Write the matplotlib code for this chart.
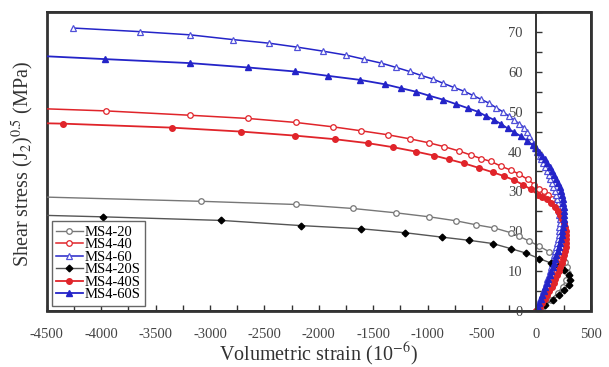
import matplotlib
matplotlib.use('Agg')
import matplotlib.pyplot as plt
from matplotlib.ticker import MultipleLocator

plt.rcParams['font.family'] = ['Liberation Serif', 'DejaVu Serif']
plt.rcParams['mathtext.fontset'] = 'stix'
plt.rcParams['axes.unicode_minus'] = False

# volumetric strain (1e-6) and shear stress (MPa), listed from the origin outward
strain_20 = [0, 58, 135, 196, 242, 273, 290, 285, 260, 200, 120, 28, -64, -156, -232,
             -386, -554, -737, -983, -1288, -1687, -2207, -3079, -4700]
stress_20 = [0, 1.1, 2.8, 4.5, 6.1, 7.8, 9.5, 11.0, 12.3, 13.5, 14.8, 16.2, 17.5, 18.7, 19.6,
             20.8, 21.6, 22.6, 23.6, 24.6, 25.7, 26.7, 27.5, 28.7]

strain_40 = [0, 25, 48, 70, 90, 110, 128, 145, 161, 176, 190, 202, 213, 223, 232, 239, 245,
             249, 251, 251, 249, 245, 238, 229, 217, 202, 184, 163, 140, 110, 72, 28, -18,
             -80, -156, -232, -324, -416, -505, -600, -707, -845, -990, -1166, -1365, -1610,
             -1870, -2213, -2651, -3180, -3958, -4700]
stress_40 = [0, 1, 2, 3, 4, 5, 6, 7, 8, 9, 10, 11, 12, 13, 14, 15, 16,
             17, 18, 19, 20, 21, 22, 23, 24, 25, 26, 27, 28, 29, 30, 30.6, 31.7,
             33.0, 34.3, 35.3, 36.3, 37.5, 38.2, 39.1, 40.1, 41.2, 42.2, 43.2, 44.2, 45.2,
             46.2, 47.3, 48.3, 49.1, 50.2, 50.9]

strain_60 = [0, 12, 25, 38, 50, 63, 76, 88, 100, 112, 123, 134, 145, 155, 165, 174, 183, 191,
             198, 204, 209, 212, 214, 214, 212, 208, 203, 196, 188, 178, 167, 155, 141, 127,
             112, 96, 80, 63, 46, 29, 10, -8, -25, -45, -65, -88, -110, -156, -202, -254,
             -309, -370, -432, -508, -585, -661, -759, -854, -952, -1059, -1166, -1288, -1426,
             -1589, -1748, -1962, -2197, -2458, -2789, -3186, -3646, -4258]
stress_60 = [0, 1, 2, 3, 4, 5, 6, 7, 8, 9, 10, 11, 12, 13, 14, 15, 16, 17,
             18, 19, 20, 21, 22, 23, 24, 25, 26, 27, 28, 29, 30, 31, 32, 33,
             34, 35, 36, 37, 38, 39, 40, 41, 42, 43, 44, 45, 46, 46.9, 47.9, 48.9,
             50.0, 51.0, 52.1, 53.1, 54.1, 55.1, 56.1, 57.1, 58.2, 59.1, 60.1, 61.1, 62.2,
             63.2, 64.2, 65.2, 66.2, 67.2, 68.1, 69.3, 70.1, 71.0]

strain_20s = [0, 80, 150, 211, 257, 297, 312, 297, 257, 211, 135, 28, -95, -232, -401, -615,
              -866, -1203, -1610, -2161, -2895, -3982, -4700]
stress_20s = [0, 1.4, 2.8, 4.0, 5.3, 6.5, 7.8, 9.1, 10.3, 11.2, 12.0, 13.1, 14.5, 15.6, 16.9, 17.7,
              18.5, 19.6, 20.6, 21.4, 22.7, 23.6, 24.1]

strain_40s = [0, 30, 55, 78, 100, 120, 140, 158, 176, 192, 207, 220, 232, 243, 253, 262, 269,
              274, 276, 275, 271, 263, 252, 237, 218, 195, 167, 135, 98, 55, 12, -49, -126,
              -202, -294, -401, -530, -661, -799, -943, -1111, -1320, -1549, -1855, -2222,
              -2712, -3354, -4355, -4700]
stress_40s = [0, 1, 2, 3, 4, 5, 6, 7, 8, 9, 10, 11, 12, 13, 14, 15, 16,
              17, 18, 19, 20, 21, 22, 23, 24, 25, 26, 27, 28, 28.7, 29.2, 30.5, 31.7,
              32.8, 33.8, 34.8, 35.9, 37.0, 38.0, 39.0, 40.0, 41.1, 42.1, 43.1, 44.0,
              45.0, 46.0, 47.0, 47.2]

strain_60s = [0, 14, 28, 42, 56, 70, 84, 98, 111, 124, 137, 150, 162, 174, 185, 196, 206, 215,
              224, 232, 239, 245, 250, 253, 255, 255, 253, 249, 243, 235, 225, 213, 199, 183,
              165, 145, 123, 100, 75, 48, 20, -5, -34, -85, -140, -202, -264, -324, -386,
              -462, -539, -631, -737, -854, -983, -1105, -1243, -1396, -1625, -1916, -2222,
              -2651, -3186, -3967, -4800]
stress_60s = [0, 1, 2, 3, 4, 5, 6, 7, 8, 9, 10, 11, 12, 13, 14, 15, 16, 17,
              18, 19, 20, 21, 22, 23, 24, 25, 26, 27, 28, 29, 30, 31, 32, 33,
              34, 35, 36, 37, 38, 39, 40, 40.8, 41.6, 42.7, 43.8, 44.8, 45.8, 46.9, 47.9,
              48.9, 50.0, 50.9, 51.9, 53.0, 54.0, 55.0, 55.9, 56.9, 58.0, 59.0, 60.1,
              61.1, 62.2, 63.2, 64.3]

fig = plt.figure(figsize=(6.09, 3.67), dpi=100)
ax = fig.add_axes([0.077, 0.153, 0.893, 0.814])

gray, red, blue = '#777777', '#e0242a', '#2424c8'

ax.plot(strain_20, stress_20, color=gray, lw=1.0, marker='o', ms=4,
        mfc='white', mec=gray, mew=0.9, label='MS4-20')
ax.plot(strain_40, stress_40, color=red, lw=1.1, marker='o', ms=4,
        mfc='white', mec=red, mew=0.9, label='MS4-40')
ax.plot(strain_60, stress_60, color=blue, lw=1.1, marker='^', ms=4.4,
        mfc='white', mec='#5050d8', mew=0.9, label='MS4-60')
ax.plot(strain_20s, stress_20s, color='#555555', lw=1.0, marker='D', ms=3.4,
        mfc='black', mec='black', label='MS4-20S')
ax.plot(strain_40s, stress_40s, color=red, lw=1.3, marker='o', ms=4,
        mfc=red, mec=red, label='MS4-40S')
ax.plot(strain_60s, stress_60s, color=blue, lw=1.3, marker='^', ms=4.6,
        mfc=blue, mec=blue, label='MS4-60S')

ax.set_xlim(-4500, 500)
ax.set_ylim(0, 75)

# y axis sits on the zero-strain line, the outer box is drawn by the axes patch
ax.spines['left'].set_position(('data', 0))
for s in ax.spines.values():
    s.set_linewidth(1.4)
    s.set_color('#333333')
ax.patch.set_edgecolor('#333333')
ax.patch.set_linewidth(2.0)

ax.xaxis.set_major_locator(MultipleLocator(500))
ax.xaxis.set_minor_locator(MultipleLocator(250))
ax.yaxis.set_major_locator(MultipleLocator(10))
ax.yaxis.set_minor_locator(MultipleLocator(5))
ax.tick_params(which='both', direction='in', length=4, width=1.0, color='#333333',
               labelsize=10.5, labelcolor='#444444')
ax.tick_params(axis='x', pad=12)
ax.tick_params(axis='y', pad=10)

ax.set_xlabel('Volumetric strain (10$^{-6}$)', fontsize=14.5, color='#333333', labelpad=0)
fig.text(0.038, 0.555, 'Shear stress (J$_2$)$^{0.5}$ (MPa)', rotation=90, fontsize=14.5,
         color='#333333', ha='center', va='center')

leg = ax.legend(loc='lower left', fontsize=10.5, handlelength=1.8, handletextpad=0.15,
                labelspacing=-0.05, borderpad=0.3, borderaxespad=0.35, fancybox=False,
                edgecolor='#666666', framealpha=1.0)
leg.get_frame().set_linewidth(1.0)

fig.savefig('out.png', dpi=100)
